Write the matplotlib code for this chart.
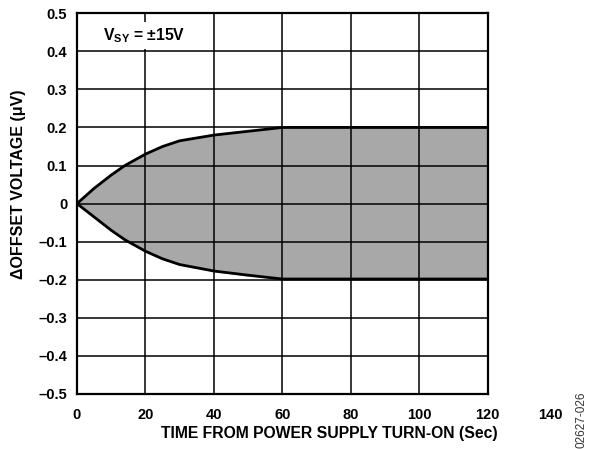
import matplotlib
matplotlib.use("Agg")
import matplotlib.pyplot as plt

# time from turn-on (s) and offset drift envelope (uV)
t_sec = [0, 5, 10, 14, 20, 25, 30, 40, 50, 60, 90, 120]
upper_uv = [0, 0.04, 0.075, 0.10, 0.13, 0.15, 0.165, 0.18, 0.19, 0.20, 0.20, 0.20]
lower_uv = [0, -0.035, -0.07, -0.095, -0.125, -0.145, -0.16, -0.177, -0.188, -0.198, -0.198, -0.198]

x_ticks = [0, 20, 40, 60, 80, 100, 120]
extra_x_label = 140
y_ticks = [0.5, 0.4, 0.3, 0.2, 0.1, 0, -0.1, -0.2, -0.3, -0.4, -0.5]
y_labels = ["0.5", "0.4", "0.3", "0.2", "0.1", "0", "\u20130.1", "\u20130.2", "\u20130.3", "\u20130.4", "\u20130.5"]

plt.rcParams['font.family'] = ['Liberation Sans', 'DejaVu Sans']
plt.rcParams['font.weight'] = 'bold'
plt.rcParams['mathtext.fontset'] = 'custom'
plt.rcParams['mathtext.bf'] = 'Liberation Sans:bold'

fig = plt.figure(figsize=(5.92, 4.49), dpi=100)
ax = fig.add_axes([0.130, 0.1225, 0.694, 0.848])

ax.fill_between(t_sec, lower_uv, upper_uv, color='#a8a8a8', zorder=1)
ax.plot(t_sec, upper_uv, color='black', lw=2, zorder=3)
ax.plot(t_sec, lower_uv, color='black', lw=2, zorder=3)

ax.set_xlim(0, 120)
ax.set_ylim(-0.5, 0.5)
ax.set_xticks(x_ticks)
ax.set_yticks(y_ticks)
ax.set_yticklabels(y_labels)
ax.grid(True, color='black', lw=1.1, zorder=2)
ax.set_axisbelow(False)
ax.tick_params(length=0, labelsize=10.5, pad=7)
ax.tick_params(axis='x', pad=10)
for s in ax.spines.values():
    s.set_linewidth(1.6)

# the 140 label sits past the right edge of the plot
ax.annotate(str(extra_x_label), xy=(extra_x_label, -0.5), xycoords='data',
            xytext=(-4, -10), textcoords='offset points', ha='center', va='top',
            fontsize=10.5, fontweight='bold', annotation_clip=False)

ax.set_xlabel("TIME FROM POWER SUPPLY TURN-ON (Sec)", fontsize=11.3, fontweight='bold')
ax.xaxis.set_label_coords(0.615, -0.085)
ax.set_ylabel("\u0394OFFSET VOLTAGE (\u03bcV)", fontsize=11.5, fontweight='bold')
ax.yaxis.set_label_coords(-0.125, 0.55)

ax.text(0.063, 0.942, r"V$_{\mathbf{SY}}$ = " + "\u00b115V", transform=ax.transAxes,
        fontsize=11.3, fontweight='bold', va='center', ha='left', zorder=5,
        bbox=dict(facecolor='white', edgecolor='none', pad=3))

fig.text(0.983, 0.066, "02627-026", rotation=90, fontsize=8.5, fontweight='normal',
         color='#333333', ha='center', va='center')

fig.savefig("out.png", dpi=100)
